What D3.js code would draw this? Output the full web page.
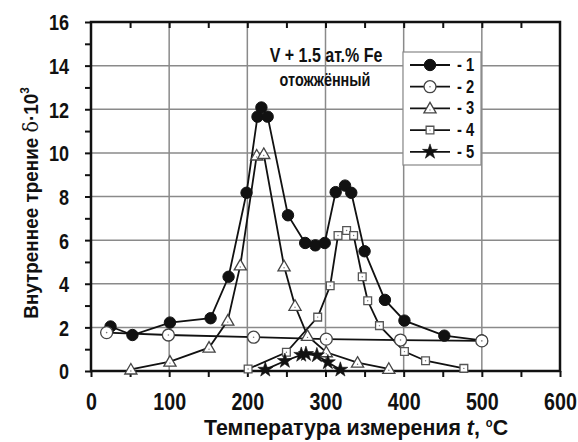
<!DOCTYPE html>
<html>
<head>
<meta charset="utf-8">
<script src="https://cdn.jsdelivr.net/npm/d3@7"></script>
<style>
  body { margin: 0; background: #fff; }
  svg { font-family: "Liberation Sans", Arial, sans-serif; font-weight: bold; }
</style>
</head>
<body>
<svg width="578" height="442"></svg>
<script>
// данные: температура (°C) и внутреннее трение δ·10^3
const t1 = [25, 53, 101, 153, 176, 199, 213, 218, 226, 252, 274, 287, 299, 313, 325, 333, 350, 376, 401, 452, 500];
const v1 = [2.04, 1.65, 2.22, 2.42, 4.32, 8.17, 11.66, 12.08, 11.66, 7.14, 5.87, 5.76, 5.87, 8.2, 8.5, 8.17, 5.49, 3.26, 2.31, 1.62, 1.4];

const t2 = [20, 99, 208, 301, 396, 500];
const v2 = [1.76, 1.65, 1.55, 1.46, 1.42, 1.38];

const t3 = [51, 101, 151, 175, 191, 212, 221, 247, 261, 277, 301, 341, 381];
const v3 = [0.07, 0.43, 1.07, 2.31, 4.84, 9.88, 9.95, 4.8, 2.99, 1.61, 0.86, 0.38, 0.1];

const t4 = [201, 250, 290, 306, 316, 327, 336, 347, 354, 369, 401, 428, 477];
const v4 = [0.09, 0.86, 2.47, 3.91, 6.21, 6.44, 6.21, 4.32, 3.22, 2.08, 0.89, 0.47, 0.12];

const t5 = [223, 248, 269, 275, 289, 303, 319];
const v5 = [0.06, 0.46, 0.74, 0.78, 0.72, 0.4, 0.06];

const seriesNames = ["1", "2", "3", "4", "5"];
const xTicks = [0, 100, 200, 300, 400, 500, 600];
const yTicks = [0, 2, 4, 6, 8, 10, 12, 14, 16];

function makeSeries(t, v) {
    return t.map((d, i) => ({x: d, y: v[i]}));
}

const allSeries = [
    {name: seriesNames[0], data: makeSeries(t1, v1), marker: "fcircle"},
    {name: seriesNames[1], data: makeSeries(t2, v2), marker: "ocircle"},
    {name: seriesNames[2], data: makeSeries(t3, v3), marker: "triangle"},
    {name: seriesNames[3], data: makeSeries(t4, v4), marker: "square"},
    {name: seriesNames[4], data: makeSeries(t5, v5), marker: "star"},
];

// узкий шрифт (как Arial Narrow) - сжимаем текст по горизонтали
const NARROW = 0.82;

function narrowText(parent, x, y, size, anchor, k) {
    return parent.append("g")
        .attr("transform", `translate(${x}, ${y}) scale(${k || NARROW}, 1)`)
        .append("text")
        .attr("text-anchor", anchor)
        .style("font-size", size + "px")
        .style("fill", "#111");
}

let svg = d3.select("svg");

const area = {left: 91, right: 560, top: 22, bottom: 371};

let scX = d3.scaleLinear().domain([0, 600]).range([area.left, area.right]);
let scY = d3.scaleLinear().domain([0, 16]).range([area.bottom, area.top]);

// сетка
svg.append("g")
    .selectAll("line")
    .data(xTicks.slice(1, -1))
    .enter().append("line")
    .attr("x1", d => scX(d)).attr("x2", d => scX(d))
    .attr("y1", area.top).attr("y2", area.bottom)
    .style("stroke", "#8a8a8a").style("stroke-width", 1.5);

svg.append("g")
    .selectAll("line")
    .data(yTicks.slice(1, -1))
    .enter().append("line")
    .attr("x1", area.left).attr("x2", area.right)
    .attr("y1", d => scY(d)).attr("y2", d => scY(d))
    .style("stroke", "#8a8a8a").style("stroke-width", 1.5);

// оси
let axisX = d3.axisBottom(scX).tickValues(d3.range(0, 601, 50)).tickSize(6).tickFormat(d => d % 100 == 0 ? d : "");
let axisY = d3.axisLeft(scY).tickValues(d3.range(0, 17, 1)).tickSize(6).tickFormat(d => d % 2 == 0 ? d : "");
let axisTop = d3.axisBottom(scX).tickValues(d3.range(50, 600, 50)).tickSize(6).tickFormat("");

let gx = svg.append("g")
    .attr("transform", `translate(0, ${area.bottom})`)
    .call(axisX);
gx.selectAll("text")
    .style("font-size", "24px").style("fill", "#111")
    .attr("dy", "0").attr("y", 39)
    .attr("transform", `scale(${NARROW}, 1)`);

let gy = svg.append("g")
    .attr("transform", `translate(${area.left}, 0)`)
    .call(axisY);
gy.selectAll("text")
    .style("font-size", "22px").style("fill", "#111")
    .attr("x", -22 / NARROW).attr("dy", "0.36em")
    .attr("transform", `scale(${NARROW}, 1)`);

svg.append("g")
    .attr("transform", `translate(0, ${area.top})`)
    .call(axisTop);

svg.selectAll(".domain").remove();
svg.selectAll("g.tick text").attr("font-family", null);
svg.selectAll(".tick line").style("stroke", "#111").style("stroke-width", 2);

// рамка
svg.append("rect")
    .attr("x", area.left).attr("y", area.top)
    .attr("width", area.right - area.left).attr("height", area.bottom - area.top)
    .style("fill", "none").style("stroke", "#111").style("stroke-width", 2.5);

// подписи осей
narrowText(svg, 356, 435, 23, "middle", 0.93)
    .html('Температура измерения <tspan font-style="italic">t</tspan>, <tspan dy="-8" font-size="12px">o</tspan><tspan dy="8">C</tspan>');

svg.append("g")
    .attr("transform", "translate(38, 203) rotate(-90) scale(0.9, 1)")
    .append("text")
    .attr("text-anchor", "middle")
    .style("font-size", "21px").style("fill", "#111")
    .html('Внутреннее трение  <tspan font-weight="normal" font-family="DejaVu Serif">δ</tspan>·10<tspan dy="-9" font-size="13px">3</tspan>');

// надпись внутри графика
narrowText(svg, 326, 62, 20, "middle", 0.8).text("V + 1.5 ат.% Fe");
narrowText(svg, 325, 86, 18, "middle", 0.8).text("отожжённый");

function drawMarker(g, kind, x, y) {
    if (kind == "fcircle") {
        g.append("circle").attr("cx", x).attr("cy", y).attr("r", 5.7)
            .style("fill", "#111").style("stroke", "#111");
    } else if (kind == "ocircle") {
        g.append("circle").attr("cx", x).attr("cy", y).attr("r", 6)
            .style("fill", "#fff").style("stroke", "#444").style("stroke-width", 1.3);
        g.append("circle").attr("cx", x).attr("cy", y).attr("r", 0.8).style("fill", "#777");
    } else if (kind == "triangle") {
        g.append("path").attr("d", d3.symbol(d3.symbolTriangle, 64)())
            .attr("transform", `translate(${x}, ${y + 1})`)
            .style("fill", "#fff").style("stroke", "#444").style("stroke-width", 1.3);
        g.append("circle").attr("cx", x).attr("cy", y + 1.5).attr("r", 0.7).style("fill", "#777");
    } else if (kind == "square") {
        g.append("path").attr("d", d3.symbol(d3.symbolSquare, 60)())
            .attr("transform", `translate(${x}, ${y})`)
            .style("fill", "#fff").style("stroke", "#555").style("stroke-width", 1.3);
        g.append("circle").attr("cx", x).attr("cy", y).attr("r", 0.7).style("fill", "#777");
    } else if (kind == "star") {
        g.append("path").attr("d", d3.symbol(d3.symbolStar, 70)())
            .attr("transform", `translate(${x}, ${y})`)
            .style("fill", "#111").style("stroke", "#111").style("stroke-width", 0.6);
    }
}

// линии и маркеры серий
let line = d3.line().x(d => scX(d.x)).y(d => scY(d.y));

for (let s of allSeries) {
    svg.append("path")
        .datum(s.data)
        .attr("d", line)
        .style("fill", "none").style("stroke", "#111").style("stroke-width", 1.8);
}
for (let s of allSeries) {
    let g = svg.append("g");
    s.data.forEach(d => drawMarker(g, s.marker, scX(d.x), scY(d.y)));
}

// легенда
const leg = {x: 403, y: 52, w: 78, h: 113, step: 21.7};
svg.append("rect")
    .attr("x", leg.x).attr("y", leg.y).attr("width", leg.w).attr("height", leg.h)
    .style("fill", "#fff").style("stroke", "#888").style("stroke-width", 1.2);

allSeries.forEach((s, i) => {
    let yy = leg.y + 13 + i * leg.step;
    let g = svg.append("g");
    g.append("line").attr("x1", leg.x + 7).attr("x2", leg.x + 47)
        .attr("y1", yy).attr("y2", yy)
        .style("stroke", "#111").style("stroke-width", 1.8);
    drawMarker(g, s.marker, leg.x + 27, yy);
    narrowText(g, leg.x + 54, yy + 6, 18, "start").text("- " + s.name);
});
</script>
</body>
</html>
